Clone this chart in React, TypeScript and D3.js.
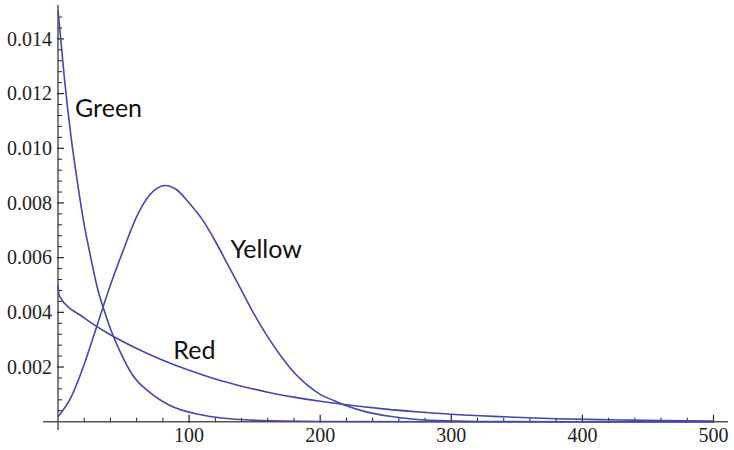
import React from "react";
import * as d3 from "d3";

// values
const greenX = [0, 5, 10, 15, 20, 25, 30, 35, 40, 47, 57, 70, 85, 108, 146, 200, 300, 400, 500];
const greenY = [0.01505, 0.0125, 0.0104, 0.0087, 0.0072, 0.006, 0.0049, 0.0041, 0.0034, 0.0026, 0.0017, 0.00107, 0.0006, 0.00026, 0.00006, 0.00001, 0, 0, 0];

const yellowX = [0, 10, 20, 30, 40, 50, 60, 70, 82, 90, 100, 110, 120, 130, 140, 150, 160, 170, 180, 190, 200, 210, 220, 235, 253, 270, 290, 320, 400, 500];
const yellowY = [0.00018, 0.0009, 0.0021, 0.00355, 0.005, 0.0063, 0.0075, 0.0083, 0.00864, 0.0085, 0.008, 0.0074, 0.0066, 0.0057, 0.0048, 0.0039, 0.0031, 0.0024, 0.0018, 0.00135, 0.001, 0.00078, 0.00058, 0.00036, 0.0002, 0.0001, 0.00004, 0.00001, 0, 0];

const redX = [0, 1, 20, 40, 60, 80, 100, 120, 140, 160, 180, 200, 220, 250, 280, 300, 340, 380, 420, 460, 500];
const redY = [0.005, 0.0046, 0.0038, 0.00318, 0.00268, 0.00225, 0.00188, 0.00156, 0.0013, 0.00108, 0.0009, 0.00075, 0.00062, 0.00046, 0.00034, 0.00027, 0.00018, 0.00011, 0.00007, 0.00004, 0.00002];

const xTicks = [100, 200, 300, 400, 500];
const yTicks = [0.002, 0.004, 0.006, 0.008, 0.01, 0.012, 0.014];
const labels = ["Green", "Yellow", "Red"];

const W = 734;
const H = 450;
const lineColor = "#4646ac";

export default function App() {
  const x = d3.scaleLinear().domain([0, 500]).range([58, 713.5]);
  const y = d3.scaleLinear().domain([0, 0.01524]).range([421.7, 5]);

  const line = d3
    .line<[number, number]>()
    .x((d) => x(d[0]))
    .y((d) => y(d[1]))
    .curve(d3.curveMonotoneX);

  const series = [
    greenX.map((v, i) => [v, greenY[i]] as [number, number]),
    yellowX.map((v, i) => [v, yellowY[i]] as [number, number]),
    redX.map((v, i) => [v, redY[i]] as [number, number]),
  ];

  // label anchor points in data space
  const labelPos = [
    [13, 0.01113],
    [131.5, 0.00599],
    [88, 0.00229],
  ];

  const xMinor = d3.range(20, 501, 20).filter((v) => v % 100 !== 0);
  const yMinor = d3
    .range(1, 38)
    .map((i) => i * 0.0004)
    .filter((v) => Math.abs(v / 0.002 - Math.round(v / 0.002)) > 1e-6);

  const x0 = x(0);
  const y0 = y(0);

  return (
    <svg width={W} height={H} style={{ position: "absolute", left: 0, top: 0, background: "#fff" }}>
      {/* axes */}
      <line x1={43} x2={728} y1={y0} y2={y0} stroke="#555" strokeWidth={1.5} />
      <line x1={x0} x2={x0} y1={5} y2={430} stroke="#555" strokeWidth={1.5} />

      {/* x ticks */}
      {xTicks.map((t) => (
        <g key={"xt" + t}>
          <line x1={x(t)} x2={x(t)} y1={y0 - 7} y2={y0 + 1} stroke="#222" strokeWidth={1.2} />
          <text
            x={x(t)}
            y={442}
            textAnchor="middle"
            fontFamily="'Liberation Serif', 'DejaVu Serif', serif"
            fontSize={20}
            fill="#222"
          >
            {t}
          </text>
        </g>
      ))}
      {xMinor.map((t) => (
        <line key={"xm" + t} x1={x(t)} x2={x(t)} y1={y0 - 4} y2={y0} stroke="#222" strokeWidth={1} />
      ))}

      {/* y ticks */}
      {yTicks.map((t) => (
        <g key={"yt" + t}>
          <line x1={x0 - 1} x2={x0 + 6} y1={y(t)} y2={y(t)} stroke="#222" strokeWidth={1.2} />
          <text
            x={52}
            y={y(t)}
            dy="0.33em"
            textAnchor="end"
            fontFamily="'Liberation Serif', 'DejaVu Serif', serif"
            fontSize={20}
            fill="#222"
          >
            {t.toFixed(3)}
          </text>
        </g>
      ))}
      {yMinor
        .filter((t) => y(t) > 6)
        .map((t, i) => (
          <line key={"ym" + i} x1={x0} x2={x0 + 4} y1={y(t)} y2={y(t)} stroke="#222" strokeWidth={1} />
        ))}

      {/* curves */}
      {series.map((s, i) => (
        <path key={"s" + i} d={line(s) || ""} fill="none" stroke={lineColor} strokeWidth={1.6} />
      ))}

      {/* labels */}
      {labels.map((l, i) => (
        <text
          key={l}
          x={x(labelPos[i][0])}
          y={y(labelPos[i][1])}
          fontFamily="Lato, 'Open Sans', sans-serif"
          fontSize={25}
          fill="#111"
        >
          {l}
        </text>
      ))}
    </svg>
  );
}
